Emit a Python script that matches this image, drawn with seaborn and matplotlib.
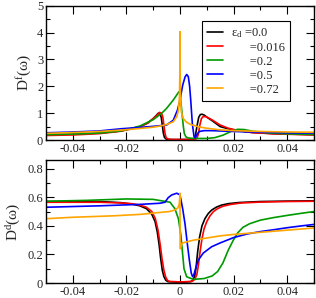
import seaborn as sns
import matplotlib.pyplot as plt
from matplotlib.ticker import MultipleLocator

# estilo
sns.set_theme(style="ticks")
plt.rcParams['font.family'] = ['Liberation Serif', 'DejaVu Serif']
plt.rcParams['mathtext.fontset'] = 'custom'
plt.rcParams['mathtext.rm'] = 'Liberation Serif'
plt.rcParams['mathtext.it'] = 'Liberation Serif:italic'

labels = [r"ε$_{\mathrm{d}}$ =0.0", "      =0.016", "      =0.2", "      =0.5", "      =0.72"]
colors = ['black', 'red', '#009a00', 'blue', 'orange']

# ---- D^f(w), painel de cima ----
w_f0 = [-0.05, -0.04, -0.03, -0.022, -0.015, -0.012, -0.01, -0.0088, -0.0081, -0.0075, -0.007, -0.0066,
        -0.0062, -0.0058, -0.0052, -0.004, 0.0, 0.0045, 0.0052, 0.0058, 0.0064, 0.0070, 0.0076, 0.0083,
        0.009, 0.0105, 0.012, 0.015, 0.018, 0.022, 0.027, 0.035, 0.05]
df_0 = [0.20, 0.22, 0.26, 0.34, 0.50, 0.64, 0.80, 0.92, 1.00, 0.98, 0.85, 0.55,
        0.25, 0.10, 0.04, 0.02, 0.02, 0.02, 0.05, 0.20, 0.55, 0.85, 0.95, 0.96,
        0.93, 0.82, 0.72, 0.50, 0.42, 0.34, 0.28, 0.24, 0.20]

w_f1 = [-0.05, -0.04, -0.03, -0.022, -0.015, -0.012, -0.01, -0.0085, -0.0076, -0.0069, -0.0064, -0.006,
        -0.0056, -0.0052, -0.0046, -0.003, 0.0, 0.005, 0.0062, 0.0068, 0.0074, 0.008, 0.0087, 0.0095,
        0.0105, 0.012, 0.015, 0.018, 0.022, 0.027, 0.035, 0.05]
df_1 = [0.17, 0.19, 0.24, 0.33, 0.49, 0.63, 0.80, 0.93, 1.03, 1.00, 0.85, 0.55,
        0.25, 0.10, 0.04, 0.02, 0.02, 0.02, 0.05, 0.20, 0.55, 0.80, 0.88, 0.87,
        0.83, 0.75, 0.56, 0.44, 0.35, 0.28, 0.23, 0.19]

w_f2 = [-0.05, -0.04, -0.03, -0.022, -0.015, -0.01, -0.007, -0.005, -0.0025, -0.0012, -0.0004, 0.0,
        0.0004, 0.0008, 0.0012, 0.0016, 0.0022, 0.003, 0.005, 0.01, 0.013, 0.016, 0.019, 0.0215,
        0.024, 0.027, 0.032, 0.04, 0.05]
df_2 = [0.20, 0.22, 0.26, 0.34, 0.52, 0.76, 0.98, 1.18, 1.49, 1.68, 1.80, 1.75,
        1.35, 0.95, 0.55, 0.25, 0.12, 0.08, 0.06, 0.06, 0.09, 0.18, 0.32, 0.40,
        0.39, 0.33, 0.27, 0.23, 0.21]

w_f3 = [-0.05, -0.04, -0.03, -0.022, -0.015, -0.01, -0.005, -0.0025, -0.001, 0.0, 0.001, 0.0019,
        0.0025, 0.0031, 0.0036, 0.004, 0.0046, 0.0052, 0.0057, 0.0063, 0.0072, 0.009, 0.012, 0.02,
        0.03, 0.04, 0.05]
df_3 = [0.27, 0.30, 0.34, 0.42, 0.47, 0.51, 0.56, 0.74, 1.10, 1.49, 2.04, 2.35,
        2.44, 2.36, 2.00, 1.49, 0.62, 0.15, 0.08, 0.20, 0.32, 0.35, 0.35, 0.32,
        0.29, 0.27, 0.26]

w_f4 = [-0.05, -0.04, -0.03, -0.022, -0.015, -0.01, -0.0075, -0.005, -0.0025, -0.0012, -0.0006, -0.0002,
        -0.00005, 0.0, 0.00005, 0.0002, 0.0005, 0.0012, 0.0025, 0.004, 0.007, 0.01, 0.015, 0.02,
        0.03, 0.04, 0.05]
df_4 = [0.25, 0.28, 0.32, 0.37, 0.43, 0.48, 0.52, 0.58, 0.68, 0.87, 1.10, 1.60,
        2.60, 4.03, 2.60, 1.50, 1.05, 0.80, 0.66, 0.58, 0.49, 0.44, 0.38, 0.35,
        0.32, 0.30, 0.29]

# ---- D^d(w), painel de baixo ----
w_d0 = [-0.05, -0.03, -0.022, -0.018, -0.015, -0.0125, -0.0105, -0.0093, -0.0085, -0.0078, -0.0072,
        -0.0066, -0.006, -0.0053, -0.0045, 0.0, 0.004, 0.0048, 0.0055, 0.006, 0.0066, 0.0073, 0.0082,
        0.0093, 0.0105, 0.0118, 0.0135, 0.0155, 0.018, 0.022, 0.03, 0.04, 0.05]
dd_0 = [0.57, 0.57, 0.562, 0.552, 0.54, 0.52, 0.48, 0.43, 0.36, 0.27, 0.17,
        0.09, 0.045, 0.02, 0.01, 0.005, 0.01, 0.02, 0.05, 0.11, 0.22, 0.32, 0.40,
        0.45, 0.485, 0.51, 0.53, 0.545, 0.555, 0.563, 0.57, 0.573, 0.575]

w_d1 = [-0.05, -0.03, -0.022, -0.018, -0.015, -0.0125, -0.0105, -0.0092, -0.0082, -0.0074, -0.0067,
        -0.006, -0.0054, -0.0047, -0.004, 0.0, 0.0045, 0.0055, 0.0063, 0.0069, 0.0075, 0.0082, 0.009,
        0.01, 0.0112, 0.0125, 0.014, 0.016, 0.019, 0.023, 0.03, 0.04, 0.05]
dd_1 = [0.565, 0.565, 0.56, 0.555, 0.545, 0.53, 0.50, 0.45, 0.37, 0.27, 0.17,
        0.09, 0.045, 0.02, 0.012, 0.008, 0.012, 0.025, 0.06, 0.13, 0.22, 0.31, 0.38,
        0.43, 0.47, 0.50, 0.52, 0.537, 0.55, 0.56, 0.566, 0.57, 0.572]

w_d2 = [-0.05, -0.035, -0.02, -0.01, -0.0037, -0.0019, -0.0006, 0.0003, 0.0009, 0.0015, 0.0025, 0.005,
        0.009, 0.012, 0.014, 0.016, 0.018, 0.0199, 0.0215, 0.0235, 0.026, 0.03, 0.035, 0.04, 0.045, 0.05]
dd_2 = [0.572, 0.578, 0.588, 0.585, 0.565, 0.52, 0.45, 0.34, 0.22, 0.10, 0.044, 0.026,
        0.032, 0.05, 0.08, 0.14, 0.23, 0.30, 0.35, 0.39, 0.415, 0.44, 0.458, 0.473, 0.487, 0.50]

w_d3 = [-0.05, -0.03, -0.015, -0.0075, -0.0056, -0.0044, -0.0031, -0.0012, 0.0, 0.001, 0.0019, 0.0027,
        0.0035, 0.0042, 0.0047, 0.0052, 0.0058, 0.0068, 0.0087, 0.0118, 0.0149, 0.02, 0.025, 0.03,
        0.035, 0.04, 0.045, 0.05]
dd_3 = [0.53, 0.54, 0.55, 0.558, 0.565, 0.597, 0.616, 0.628, 0.616, 0.52, 0.41, 0.28,
        0.16, 0.07, 0.045, 0.06, 0.10, 0.16, 0.21, 0.254, 0.28, 0.318, 0.343, 0.36,
        0.373, 0.387, 0.399, 0.41]

w_d4 = [-0.05, -0.04, -0.025, -0.015, -0.004, -0.002, -0.0008, -0.0003, -0.0001, 0.0, 0.00005, 0.0008,
        0.005, 0.015, 0.02, 0.03, 0.04, 0.05]
dd_4 = [0.45, 0.46, 0.47, 0.48, 0.50, 0.51, 0.525, 0.55, 0.59, 0.628, 0.24, 0.28,
        0.30, 0.33, 0.34, 0.355, 0.37, 0.385]

top = [(w_f0, df_0), (w_f1, df_1), (w_f2, df_2), (w_f3, df_3), (w_f4, df_4)]
bot = [(w_d0, dd_0), (w_d1, dd_1), (w_d2, dd_2), (w_d3, dd_3), (w_d4, dd_4)]

fig = plt.figure(figsize=(3.16, 2.98), dpi=100)
ax1 = fig.add_axes([0.1456, 0.530, 0.848, 0.451])
ax2 = fig.add_axes([0.1456, 0.050, 0.848, 0.413])

for (w, d), c, lab in zip(top, colors, labels):
    sns.lineplot(x=w, y=d, color=c, label=lab, ax=ax1, lw=1.2, estimator=None, sort=False)
for (w, d), c in zip(bot, colors):
    sns.lineplot(x=w, y=d, color=c, ax=ax2, lw=1.2, estimator=None, sort=False, legend=False)

ax1.set_ylim(0, 5)
ax2.set_ylim(0, 0.86)
ax1.yaxis.set_minor_locator(MultipleLocator(0.5))
ax2.yaxis.set_minor_locator(MultipleLocator(0.1))
ax1.set_yticks([0, 1, 2, 3, 4, 5])
ax1.set_yticklabels(['0', '1', '2', '3', '4', '5'])
ax2.set_yticks([0, 0.2, 0.4, 0.6, 0.8])
ax2.set_yticklabels(['0', '0.2', '0.4', '0.6', '0.8'])

for ax in (ax1, ax2):
    ax.set_xlim(-0.05, 0.05)
    ax.xaxis.set_minor_locator(MultipleLocator(0.01))
    ax.set_xticks([-0.04, -0.02, 0, 0.02, 0.04])
    ax.set_xticklabels(['-0.04', '-0.02', '0', '0.02', '0.04'])
    ax.tick_params(which='both', direction='in', top=True, right=True, labelsize=9, pad=2, color='black')
    ax.tick_params(which='major', length=5.5, width=0.8)
    ax.tick_params(which='minor', length=3, width=0.8)
    for s in ax.spines.values():
        s.set_color('black')
        s.set_linewidth(1.0)

ax1.set_ylabel(r"D$^{\mathrm{f}}$(ω)", fontsize=11, labelpad=3)
ax2.set_ylabel(r"D$^{\mathrm{d}}$(ω)", fontsize=11, labelpad=3)

leg = ax1.legend(loc='upper right', bbox_to_anchor=(0.91, 0.886), borderaxespad=0, fontsize=9,
                 frameon=True, fancybox=False, framealpha=1, edgecolor='black',
                 handlelength=1.3, handletextpad=0.6, labelspacing=0.16, borderpad=0.4)
leg.get_frame().set_linewidth(0.8)

fig.savefig("out.png", dpi=100)
